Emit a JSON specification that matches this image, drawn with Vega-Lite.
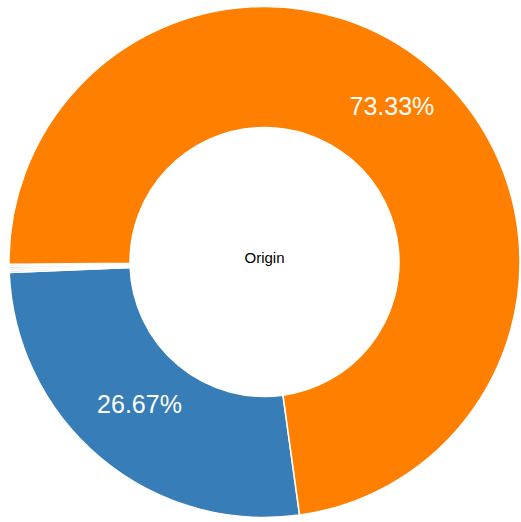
{
  "$schema": "https://vega.github.io/schema/vega-lite/v6.json",
  "autosize": {"type": "fit", "contains": "padding"},
  "width": 521,
  "height": 522,
  "padding": {"left": 9, "right": 1, "top": 2, "bottom": 0},
  "background": "white",
  "view": {"stroke": null},
  "data": {
    "values": [
      {"category": "B", "value": 26.67, "order": 1},
      {"category": "C", "value": 0.13, "order": 2},
      {"category": "D", "value": 0.13, "order": 3},
      {"category": "E", "value": 0.13, "order": 4},
      {"category": "F", "value": 0.13, "order": 5},
      {"category": "A", "value": 73.33, "order": 6}
    ]
  },
  "transform": [
    {"calculate": "datum.value > 1 ? format(datum.value, '.2f') + '%' : ''", "as": "label"}
  ],
  "encoding": {
    "theta": {"field": "value", "type": "quantitative", "stack": true, "scale": {"range": [3.004, 9.287]}},
    "order": {"field": "order", "type": "quantitative"},
    "color": {
      "field": "category",
      "type": "nominal",
      "legend": null,
      "scale": {
        "domain": ["A", "B", "C", "D", "E", "F"],
        "range": ["#ff7f00", "#377eb8", "#f4b6b6", "#b9e2b5", "#d6c2e6", "#b5e0f0"]
      }
    }
  },
  "layer": [
    {
      "mark": {"type": "arc", "outerRadius": 255.5, "innerRadius": 134.5, "stroke": "white", "strokeWidth": 1.5}
    },
    {
      "mark": {"type": "text", "radius": 195, "dy": -7, "fontSize": 25, "font": "Liberation Sans", "fill": "white", "align": "center", "baseline": "middle"},
      "encoding": {
        "text": {"field": "label", "type": "nominal"},
        "color": {"value": "white"}
      }
    },
    {
      "data": {"values": [{"title": "Origin"}]},
      "mark": {"type": "text", "fontSize": 15, "font": "Liberation Sans", "color": "black", "align": "center", "baseline": "middle", "dy": -4},
      "encoding": {
        "text": {"field": "title", "type": "nominal"},
        "theta": null,
        "order": null,
        "color": null
      }
    }
  ]
}
